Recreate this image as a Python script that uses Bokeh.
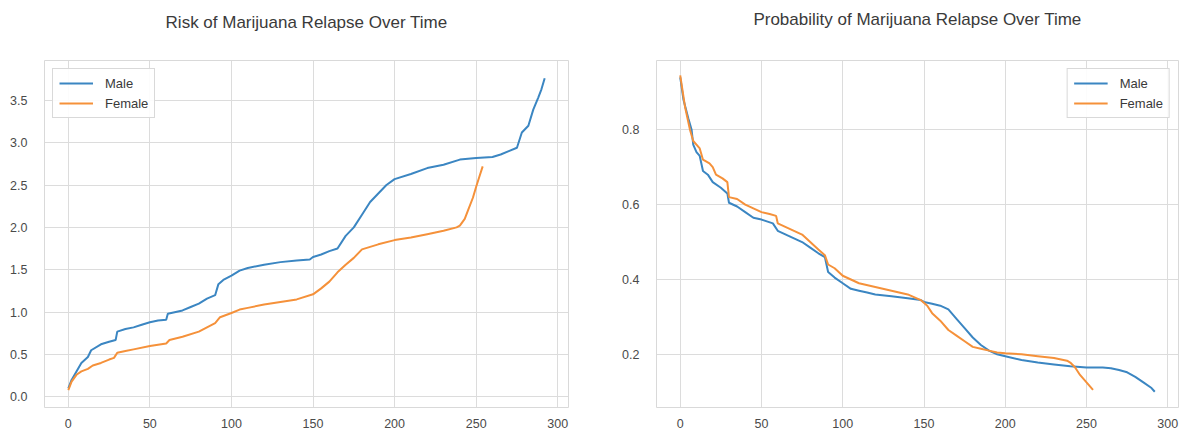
from bokeh.plotting import figure
from bokeh.layouts import row
from bokeh.models import Range1d, FixedTicker, Legend, LegendItem, Title
from bokeh.embed import file_html
from bokeh.resources import INLINE

# ---- data: cumulative hazard (left) ----
male_h_t = [0, 2, 5, 8, 12, 14, 20, 25, 29, 30, 35, 40, 45, 50, 55, 60, 61, 70, 75, 80, 85, 90, 92, 95, 100,
            105, 110, 120, 130, 140, 148, 150, 155, 160, 165, 170, 175, 180, 185, 190, 195, 200, 210, 220,
            230, 240, 250, 260, 265, 270, 275, 278, 282, 285, 288, 290, 292]
male_h = [0.10, 0.20, 0.30, 0.40, 0.47, 0.55, 0.62, 0.65, 0.67, 0.77, 0.80, 0.82, 0.85, 0.88, 0.90, 0.91, 0.98,
          1.02, 1.06, 1.10, 1.16, 1.20, 1.33, 1.38, 1.43, 1.49, 1.52, 1.56, 1.59, 1.61, 1.62, 1.65, 1.68,
          1.72, 1.75, 1.90, 2.00, 2.15, 2.30, 2.40, 2.50, 2.57, 2.63, 2.70, 2.74, 2.80, 2.82, 2.83, 2.86,
          2.90, 2.94, 3.12, 3.20, 3.39, 3.53, 3.63, 3.76]
female_h_t = [0, 2, 5, 8, 12, 15, 20, 25, 28, 30, 35, 40, 50, 60, 62, 70, 80, 85, 90, 93, 100, 105, 110, 120,
              130, 140, 150, 155, 160, 165, 170, 175, 180, 190, 200, 210, 220, 230, 238, 240, 243, 245, 248,
              250, 252, 254]
female_h = [0.08, 0.18, 0.26, 0.30, 0.33, 0.37, 0.40, 0.44, 0.46, 0.52, 0.54, 0.56, 0.60, 0.63, 0.67, 0.71,
            0.77, 0.82, 0.87, 0.94, 0.99, 1.03, 1.05, 1.09, 1.12, 1.15, 1.21, 1.28, 1.36, 1.47, 1.56, 1.64,
            1.74, 1.80, 1.85, 1.88, 1.92, 1.96, 2.00, 2.02, 2.10, 2.20, 2.35, 2.48, 2.60, 2.72]

# ---- data: survival probability (right) ----
male_s_t = [0, 2, 5, 7, 8, 10, 12, 14, 17, 20, 25, 29, 30, 35, 40, 45, 50, 57, 60, 65, 70, 75, 80, 85, 89, 91,
            95, 100, 105, 110, 115, 120, 130, 140, 148, 150, 155, 160, 165, 170, 175, 180, 185, 190, 195,
            200, 210, 220, 230, 240, 250, 260, 265, 270, 275, 280, 285, 290, 292]
male_s = [0.94, 0.88, 0.83, 0.80, 0.76, 0.74, 0.73, 0.69, 0.68, 0.66, 0.645, 0.63, 0.605, 0.595, 0.58, 0.565,
          0.56, 0.55, 0.53, 0.52, 0.51, 0.50, 0.485, 0.47, 0.46, 0.42, 0.405, 0.39, 0.375, 0.37, 0.365, 0.36,
          0.355, 0.35, 0.345, 0.34, 0.335, 0.33, 0.32, 0.295, 0.27, 0.245, 0.225, 0.21, 0.20, 0.195, 0.185,
          0.178, 0.173, 0.168, 0.165, 0.165, 0.163, 0.158, 0.152, 0.14, 0.125, 0.11, 0.10]
female_s_t = [0, 3, 6, 8, 12, 14, 18, 20, 22, 26, 29, 30, 35, 40, 45, 50, 55, 59, 60, 65, 70, 75, 80, 85, 89,
              91, 95, 100, 105, 110, 120, 130, 140, 148, 152, 155, 160, 165, 170, 175, 180, 185, 190, 195,
              200, 210, 220, 230, 238, 240, 243, 246, 250, 254]
female_s = [0.945, 0.86, 0.80, 0.77, 0.75, 0.72, 0.71, 0.70, 0.68, 0.67, 0.66, 0.62, 0.615, 0.60, 0.59, 0.58,
            0.575, 0.57, 0.55, 0.54, 0.53, 0.52, 0.50, 0.48, 0.465, 0.44, 0.43, 0.41, 0.40, 0.39, 0.38, 0.37,
            0.36, 0.345, 0.33, 0.31, 0.29, 0.265, 0.25, 0.235, 0.22, 0.215, 0.21, 0.205, 0.203, 0.20, 0.195,
            0.19, 0.183, 0.178, 0.165, 0.145, 0.125, 0.105]

x_ticks = [0, 50, 100, 150, 200, 250, 300]
left_y_ticks = [0.0, 0.5, 1.0, 1.5, 2.0, 2.5, 3.0, 3.5]
right_y_ticks = [0.2, 0.4, 0.6, 0.8]
series_names = ["Male", "Female"]
titles = ["Risk of Marijuana Relapse Over Time", "Probability of Marijuana Relapse Over Time"]

BLUE = "#3b86c2"
ORANGE = "#f5913a"
FONT = "Liberation Sans"


def style(p, yticks, yfmt, title_text, spacer_px):
    p.background_fill_color = "white"
    p.border_fill_color = "white"
    p.outline_line_color = "#d9d9d9"
    p.outline_line_width = 1
    # invisible spacer between frame and title
    p.add_layout(Title(text=" ", text_font_size=f"{spacer_px}px", standoff=0,
                       text_color="white"), "above")
    p.add_layout(Title(text=title_text, align="center", text_font=FONT, text_font_size="17px",
                       text_font_style="normal", text_color="#3a3a3a", standoff=0), "above")
    for ax in (p.xaxis, p.yaxis):
        ax.axis_line_color = None
        ax.major_tick_line_color = None
        ax.minor_tick_line_color = None
        ax.major_label_text_font = FONT
        ax.major_label_text_font_size = "12.5px"
        ax.major_label_text_color = "#4a4a4a"
    p.xaxis.major_label_standoff = 5
    p.yaxis.major_label_standoff = 11
    p.xaxis.ticker = FixedTicker(ticks=x_ticks)
    p.yaxis.ticker = FixedTicker(ticks=yticks)
    p.yaxis.major_label_overrides = {t: yfmt.format(t) for t in yticks}
    p.xgrid.ticker = FixedTicker(ticks=x_ticks)
    p.ygrid.ticker = FixedTicker(ticks=yticks)
    for g in (p.xgrid, p.ygrid):
        g.grid_line_color = "#dcdcdc"
        g.grid_line_width = 1


def add_legend(p, rends, loc):
    items = [LegendItem(label=n, renderers=[r]) for n, r in zip(series_names, rends)]
    leg = Legend(items=items, location=loc)
    leg.label_text_font = FONT
    leg.label_text_font_size = "13px"
    leg.label_text_color = "#3a3a3a"
    leg.glyph_width = 34
    leg.glyph_height = 16
    leg.label_standoff = 12
    leg.spacing = 4
    leg.padding = 6
    leg.margin = 8
    leg.border_line_color = "#d9d9d9"
    leg.border_line_alpha = 1
    leg.background_fill_alpha = 0.9
    p.add_layout(leg)


# ---- left ----
p1 = figure(width=590, height=436, output_backend="svg", toolbar_location=None, title=None,
            x_range=Range1d(-14.6, 306.6), y_range=Range1d(-0.126, 3.97))
p1.min_border_left = 44
p1.min_border_right = 22
p1.min_border_top = 60
p1.min_border_bottom = 27
style(p1, left_y_ticks, "{:.1f}", titles[0], 24)
r1 = p1.line(male_h_t, male_h, line_color=BLUE, line_width=2)
r2 = p1.line(female_h_t, female_h, line_color=ORANGE, line_width=2)
add_legend(p1, [r1, r2], "top_left")

# ---- right ----
p2 = figure(width=594, height=436, output_backend="svg", toolbar_location=None, title=None,
            x_range=Range1d(-14.6, 306.6), y_range=Range1d(0.058, 0.985))
p2.min_border_left = 66
p2.min_border_right = 6
p2.min_border_top = 55
p2.min_border_bottom = 29
style(p2, right_y_ticks, "{:.1f}", titles[1], 27)
r3 = p2.line(male_s_t, male_s, line_color=BLUE, line_width=2)
r4 = p2.line(female_s_t, female_s, line_color=ORANGE, line_width=2)
add_legend(p2, [r3, r4], "top_right")

layout = row(p1, p2, spacing=0)
open("out.html", "w").write(file_html(layout, INLINE))
